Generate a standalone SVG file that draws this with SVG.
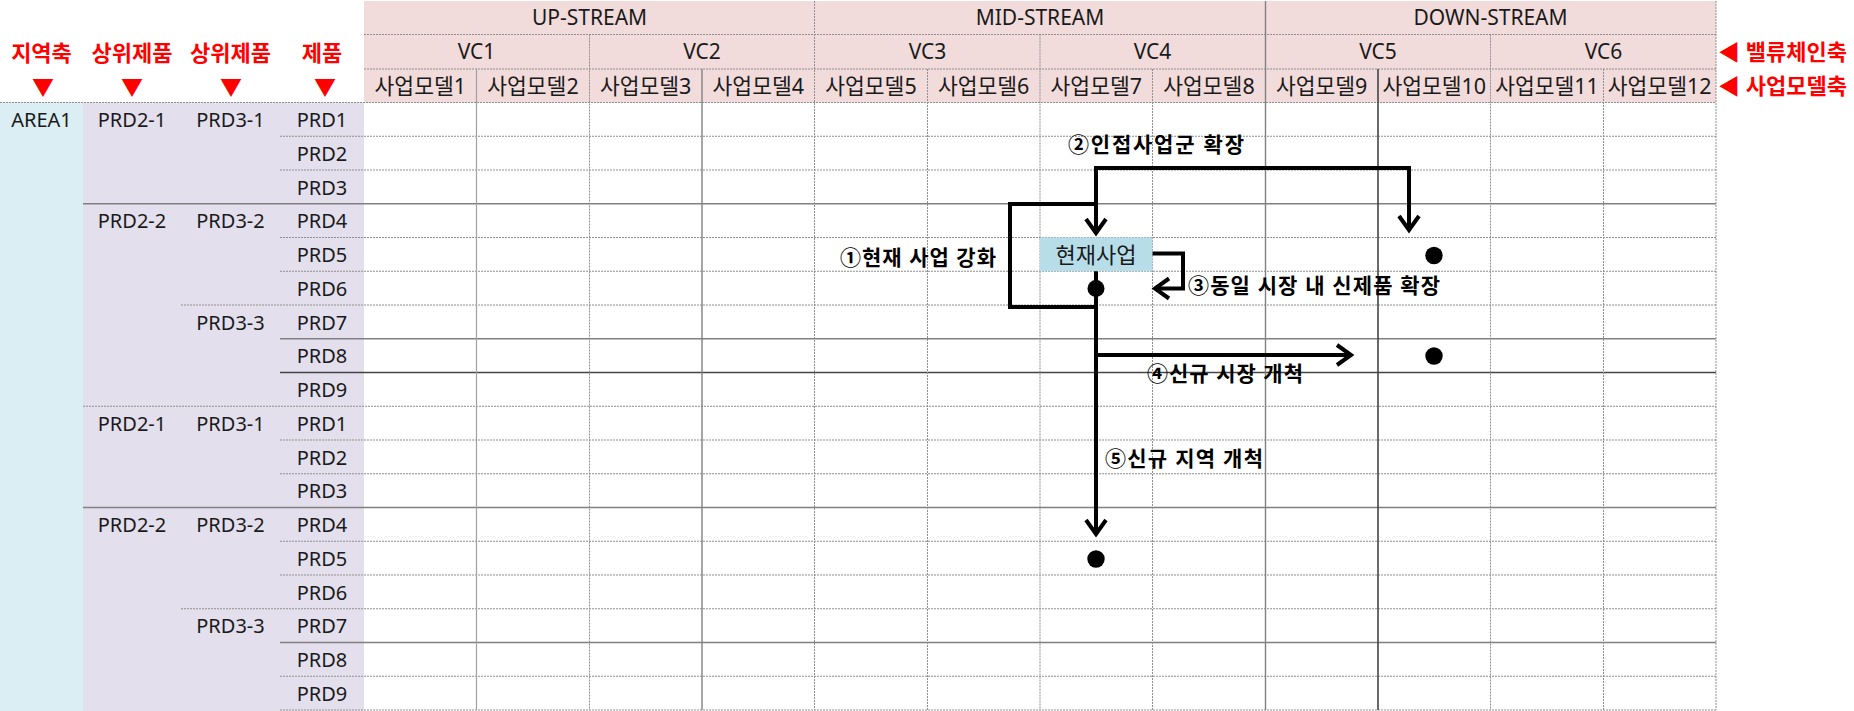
<svg xmlns="http://www.w3.org/2000/svg" width="1854" height="711" viewBox="0 0 1854 711">
<defs>
<style>
.t{font-family:'Noto Sans','Noto Sans CJK KR',sans-serif;font-size:20px;fill:#1a1a1a}
.k{font-size:21.5px}
.h{font-size:21px}
.c{text-anchor:middle}
.red{fill:#ff0000;font-weight:bold;font-size:22px}
.lbl{font-family:'Noto Sans','Noto Sans CJK KR',sans-serif;font-size:21px;font-weight:bold;fill:#000}
.gd{stroke:#8f8f8f;stroke-width:1;stroke-dasharray:2 1;fill:none}
.gs{stroke:#a0a0a0;stroke-width:1.2;fill:none}
.gm{stroke:#808080;stroke-width:1.4;fill:none}
.gk{stroke:#454545;stroke-width:1.6;fill:none}
.conn{stroke:#000;stroke-width:4;fill:none}
.dot{fill:#000}
</style>
<marker id="arr" viewBox="-20 -15 30 30" refX="0" refY="0" markerWidth="30" markerHeight="30" markerUnits="userSpaceOnUse" orient="auto">
<path d="M-13,-10 L1,0 L-13,10" stroke="#000" stroke-width="4" fill="none" stroke-linejoin="miter"/>
</marker>
</defs>

<g id="backgrounds">
<rect x="364" y="1" width="1352" height="101.5" fill="#f2dcdb"/>
<rect x="0" y="102.5" width="83" height="608.5" fill="#daeef3"/>
<rect x="83" y="102.5" width="281" height="608.5" fill="#e4dfec"/>
</g>

<g id="grid">
<line class="gd" x1="364" y1="34.5" x2="1716" y2="34.5"/>
<line class="gd" x1="364" y1="69" x2="1716" y2="69"/>
<line class="gd" x1="0" y1="102.5" x2="1716" y2="102.5"/>
<line class="gd" x1="280" y1="136.25" x2="1716" y2="136.25"/>
<line class="gd" x1="280" y1="170" x2="1716" y2="170"/>
<line class="gm" x1="83" y1="203.75" x2="1716" y2="203.75"/>
<line class="gd" x1="280" y1="237.5" x2="1716" y2="237.5"/>
<line class="gd" x1="280" y1="271.25" x2="1716" y2="271.25"/>
<line class="gd" x1="181" y1="305" x2="1716" y2="305"/>
<line class="gm" x1="280" y1="338.75" x2="1716" y2="338.75"/>
<line class="gk" x1="280" y1="372.5" x2="1716" y2="372.5"/>
<line class="gd" x1="83" y1="406.25" x2="1716" y2="406.25"/>
<line class="gd" x1="280" y1="440" x2="1716" y2="440"/>
<line class="gd" x1="280" y1="473.75" x2="1716" y2="473.75"/>
<line class="gm" x1="83" y1="507.5" x2="1716" y2="507.5"/>
<line class="gd" x1="280" y1="541.25" x2="1716" y2="541.25"/>
<line class="gd" x1="280" y1="575" x2="1716" y2="575"/>
<line class="gd" x1="181" y1="608.75" x2="1716" y2="608.75"/>
<line class="gm" x1="280" y1="642.5" x2="1716" y2="642.5"/>
<line class="gd" x1="280" y1="676.25" x2="1716" y2="676.25"/>
<line class="gd" x1="280" y1="710" x2="1716" y2="710"/>

<line class="gs" x1="476.5" y1="69" x2="476.5" y2="710"/>
<line class="gd" x1="589.5" y1="34.5" x2="589.5" y2="710"/>
<line class="gm" x1="702" y1="69" x2="702" y2="710"/>
<line class="gd" x1="814.5" y1="1" x2="814.5" y2="710"/>
<line class="gd" x1="927.5" y1="69" x2="927.5" y2="710"/>
<line class="gd" x1="1040" y1="34.5" x2="1040" y2="710"/>
<line class="gd" x1="1152.5" y1="69" x2="1152.5" y2="710"/>
<line class="gm" x1="1265.5" y1="1" x2="1265.5" y2="710"/>
<line class="gk" x1="1378" y1="69" x2="1378" y2="710"/>
<line class="gd" x1="1490.5" y1="34.5" x2="1490.5" y2="710"/>
<line class="gd" x1="1603.5" y1="69" x2="1603.5" y2="710"/>
<line class="gd" x1="1716" y1="1" x2="1716" y2="710"/>
</g>

<g id="header-stream">
<text class="t h c" x="589.5" y="24.5">UP-STREAM</text>
<text class="t h c" x="1040" y="24.5">MID-STREAM</text>
<text class="t h c" x="1490.5" y="24.5">DOWN-STREAM</text>
</g>
<g id="header-vc">
<text class="t h c" x="476.5" y="59">VC1</text>
<text class="t h c" x="702" y="59">VC2</text>
<text class="t h c" x="927.5" y="59">VC3</text>
<text class="t h c" x="1152.5" y="59">VC4</text>
<text class="t h c" x="1378" y="59">VC5</text>
<text class="t h c" x="1603.5" y="59">VC6</text>
</g>
<g id="header-bm">
<text class="t k c" x="420.3" y="93.5">사업모델1</text>
<text class="t k c" x="533" y="93.5">사업모델2</text>
<text class="t k c" x="645.7" y="93.5">사업모델3</text>
<text class="t k c" x="758.3" y="93.5">사업모델4</text>
<text class="t k c" x="871" y="93.5">사업모델5</text>
<text class="t k c" x="983.7" y="93.5">사업모델6</text>
<text class="t k c" x="1096.3" y="93.5">사업모델7</text>
<text class="t k c" x="1209" y="93.5">사업모델8</text>
<text class="t k c" x="1321.7" y="93.5">사업모델9</text>
<text class="t k c" x="1434.3" y="93.5">사업모델10</text>
<text class="t k c" x="1547" y="93.5">사업모델11</text>
<text class="t k c" x="1659.7" y="93.5">사업모델12</text>
</g>

<g id="axis-labels">
<text class="t c red" x="41.5" y="60.5">지역축</text>
<text class="t c red" x="132" y="60.5">상위제품</text>
<text class="t c red" x="230.5" y="60.5">상위제품</text>
<text class="t c red" x="322" y="60.5">제품</text>
<text class="t c red" x="43" y="94.5">▼</text>
<text class="t c red" x="132" y="94.5">▼</text>
<text class="t c red" x="231" y="94.5">▼</text>
<text class="t c red" x="325" y="94.5">▼</text>
<text class="t red" x="1718" y="59.5">◀ 밸류체인축</text>
<text class="t red" x="1718" y="93.5">◀ 사업모델축</text>
</g>

<g id="row-headers">
<text class="t c" x="41.5" y="127">AREA1</text>
<text class="t c" x="132" y="127">PRD2-1</text>
<text class="t c" x="230.5" y="127">PRD3-1</text>
<text class="t c" x="132" y="228.25">PRD2-2</text>
<text class="t c" x="230.5" y="228.25">PRD3-2</text>
<text class="t c" x="230.5" y="329.5">PRD3-3</text>
<text class="t c" x="322" y="127">PRD1</text>
<text class="t c" x="322" y="160.75">PRD2</text>
<text class="t c" x="322" y="194.5">PRD3</text>
<text class="t c" x="322" y="228.25">PRD4</text>
<text class="t c" x="322" y="262">PRD5</text>
<text class="t c" x="322" y="295.75">PRD6</text>
<text class="t c" x="322" y="329.5">PRD7</text>
<text class="t c" x="322" y="363.25">PRD8</text>
<text class="t c" x="322" y="397">PRD9</text>
<text class="t c" x="132" y="430.75">PRD2-1</text>
<text class="t c" x="230.5" y="430.75">PRD3-1</text>
<text class="t c" x="132" y="532">PRD2-2</text>
<text class="t c" x="230.5" y="532">PRD3-2</text>
<text class="t c" x="230.5" y="633.25">PRD3-3</text>
<text class="t c" x="322" y="430.75">PRD1</text>
<text class="t c" x="322" y="464.5">PRD2</text>
<text class="t c" x="322" y="498.25">PRD3</text>
<text class="t c" x="322" y="532">PRD4</text>
<text class="t c" x="322" y="565.75">PRD5</text>
<text class="t c" x="322" y="599.5">PRD6</text>
<text class="t c" x="322" y="633.25">PRD7</text>
<text class="t c" x="322" y="667">PRD8</text>
<text class="t c" x="322" y="700.75">PRD9</text>
</g>

<g id="connectors">
<path class="conn" d="M1096,204 H1010 V307 H1096"/>
<path class="conn" d="M1096,168 V232" marker-end="url(#arr)"/>
<path class="conn" d="M1094,168 H1409 V229" marker-end="url(#arr)"/>
<path class="conn" d="M1146,253.5 H1183 V288.5 H1156" marker-end="url(#arr)"/>
<path class="conn" d="M1096,270 V533" marker-end="url(#arr)"/>
<path class="conn" d="M1096,355 H1350" marker-end="url(#arr)"/>
</g>

<g id="node-current">
<rect x="1040" y="237.5" width="112.5" height="33.75" fill="#b7dee8"/>
<text class="t c" style="font-size:22px" x="1096" y="262.5">현재사업</text>
</g>
<g id="node-junction"><circle class="dot" cx="1096" cy="288.5" r="8.5"/></g>
<g id="node-target-adjacent"><circle class="dot" cx="1434" cy="255.5" r="8.7"/></g>
<g id="node-target-market"><circle class="dot" cx="1434" cy="356" r="8.7"/></g>
<g id="node-target-region"><circle class="dot" cx="1096" cy="559" r="8.7"/></g>

<g id="connector-labels">
<text class="lbl" x="1068" y="152" textLength="176" lengthAdjust="spacing">②인접사업군 확장</text>
<text class="lbl" x="840" y="265" textLength="156" lengthAdjust="spacing">①현재 사업 강화</text>
<text class="lbl" x="1188" y="293" textLength="252" lengthAdjust="spacing">③동일 시장 내 신제품 확장</text>
<text class="lbl" x="1147" y="381" textLength="156" lengthAdjust="spacing">④신규 시장 개척</text>
<text class="lbl" x="1105" y="466" textLength="158" lengthAdjust="spacing">⑤신규 지역 개척</text>
</g>
</svg>
